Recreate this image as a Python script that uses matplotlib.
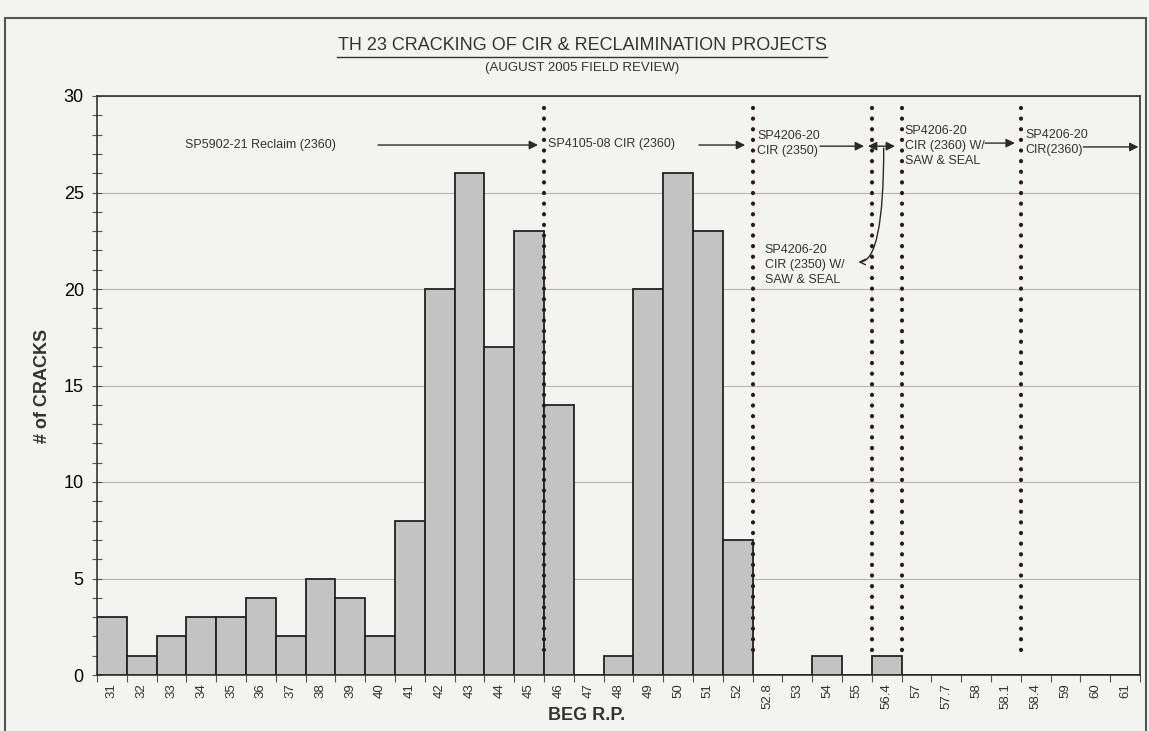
import matplotlib
matplotlib.use('Agg')
import matplotlib.pyplot as plt
from matplotlib.patches import Rectangle
import numpy as np

plt.rcParams['font.family'] = ['Liberation Sans', 'DejaVu Sans']

# bar categories (begin reference point) and crack counts
rp_labels = ['31', '32', '33', '34', '35', '36', '37', '38', '39', '40',
             '41', '42', '43', '44', '45', '46', '47', '48', '49', '50',
             '51', '52', '52.8', '53', '54', '55', '56.4', '57', '57.7', '58',
             '58.1', '58.4', '59', '60', '61']
cracks = [3, 1, 2, 3, 3, 4, 2, 5, 4, 2,
          8, 20, 26, 17, 23, 14, 0, 1, 20, 26,
          23, 7, 0, 0, 1, 0, 1, 0, 0, 0,
          0, 0, 0, 0, 0]

# project boundaries, between bars (bar index + 0.5)
boundaries = [14.5, 21.5, 25.5, 26.5, 30.5]

bg = '#f3f4f2'
W, H = 1149, 731
fig = plt.figure(figsize=(W / 100, H / 100), dpi=100, facecolor=bg)
ax = fig.add_axes([97 / W, 1 - 675 / H, (1140 - 97) / W, (675 - 96) / H])
ax.set_facecolor(bg)

x = np.arange(len(rp_labels))
ax.bar(x, cracks, width=1.0, color='#c3c3c3', edgecolor='#222222', linewidth=1.3, zorder=3)

ax.set_xlim(-0.5, len(rp_labels) - 0.5)
ax.set_ylim(0, 30)
ax.set_yticks(range(0, 31, 5))
ax.set_yticks(range(0, 31), minor=True)
ax.yaxis.grid(True, which='major', color='#b5b5b5', linewidth=0.8, zorder=0)
ax.tick_params(axis='y', which='both', direction='inout', length=7, width=0.8,
               color='#555555', labelsize=13, pad=6)
ax.set_xticks(x)
ax.set_xticklabels(rp_labels, rotation=90, fontsize=9.5, color='#333333')
ax.set_xticks(np.arange(-0.5, len(rp_labels), 1.0), minor=True)
ax.tick_params(axis='x', which='major', length=0, pad=6)
ax.tick_params(axis='x', which='minor', direction='out', length=5, width=0.8, color='#555555')
for s in ax.spines.values():
    s.set_color('#333333')
    s.set_linewidth(1.2)

# dotted project limits
for b in boundaries:
    ax.plot([b, b], [1.3, 29.6], color='#2a1a1a', linewidth=3,
            linestyle=(0, (0.05, 2.5)), dash_capstyle='round', zorder=4)

tc = '#333333'
fs = 9
ax.text(2.45, 27.46, 'SP5902-21 Reclaim (2360)', fontsize=fs, color=tc, va='center')
ax.text(14.63, 27.5, 'SP4105-08 CIR (2360)', fontsize=fs, color=tc, va='center')
ax.text(21.65, 27.55, 'SP4206-20\nCIR (2350)', fontsize=fs, color=tc, va='center', linespacing=1.3)
ax.text(26.6, 27.4, 'SP4206-20\nCIR (2360) W/\nSAW & SEAL', fontsize=fs, color=tc,
        va='center', linespacing=1.35)
ax.text(30.64, 27.6, 'SP4206-20\nCIR(2360)', fontsize=fs, color=tc, va='center', linespacing=1.3)
ax.text(21.9, 21.24, 'SP4206-20\nCIR (2350) W/\nSAW & SEAL', fontsize=fs, color=tc,
        va='center', linespacing=1.35)

arr = dict(arrowstyle='-|>', color='#2a2a2a', linewidth=1.0, mutation_scale=13,
           shrinkA=0, shrinkB=0)
arrows = [(8.93, 14.3, 27.46), (19.7, 21.25, 27.46), (23.76, 25.24, 27.4),
          (29.3, 30.3, 27.56), (32.6, 34.45, 27.36)]
for x0, x1, yy in arrows:
    ax.annotate('', xy=(x1, yy), xytext=(x0, yy), arrowprops=arr, zorder=5)
ax.annotate('', xy=(26.28, 27.4), xytext=(25.37, 27.4),
            arrowprops=dict(arr, arrowstyle='<|-|>'), zorder=5)
ax.annotate('', xy=(25.05, 21.4), xytext=(25.9, 27.3),
            arrowprops=dict(arrowstyle='->', color='#2a2a2a', linewidth=1.0,
                            connectionstyle='angle3,angleA=-90,angleB=0',
                            shrinkA=0, shrinkB=0), zorder=5)

ax.set_ylabel('# of CRACKS', fontsize=13, fontweight='bold', color='#333333', labelpad=9)
fig.text(587 / W, 1 - 715 / H, 'BEG R.P.', fontsize=13, fontweight='bold',
         color='#333333', ha='center', va='center')

title = fig.text(582 / W, 1 - 46 / H, 'TH 23 CRACKING OF CIR & RECLAIMINATION PROJECTS',
                 fontsize=13, color='#333333', ha='center', va='center')
fig.text(582 / W, 1 - 68 / H, '(AUGUST 2005 FIELD REVIEW)', fontsize=9.5,
         color='#333333', ha='center', va='center')

# underline matched to the title width
fig.canvas.draw()
bb = title.get_window_extent().transformed(fig.transFigure.inverted())
fig.add_artist(plt.Line2D([bb.x0, bb.x1], [bb.y0 - 0.003, bb.y0 - 0.003],
                          color='#333333', linewidth=1.0))

# scanned page frame
fig.add_artist(Rectangle((5 / W, -0.05), (1146 - 5) / W, 1.05 - 18 / H,
                         transform=fig.transFigure, fill=False,
                         edgecolor='#555555', linewidth=1.5))

fig.savefig('out.png', dpi=100, facecolor=bg)
